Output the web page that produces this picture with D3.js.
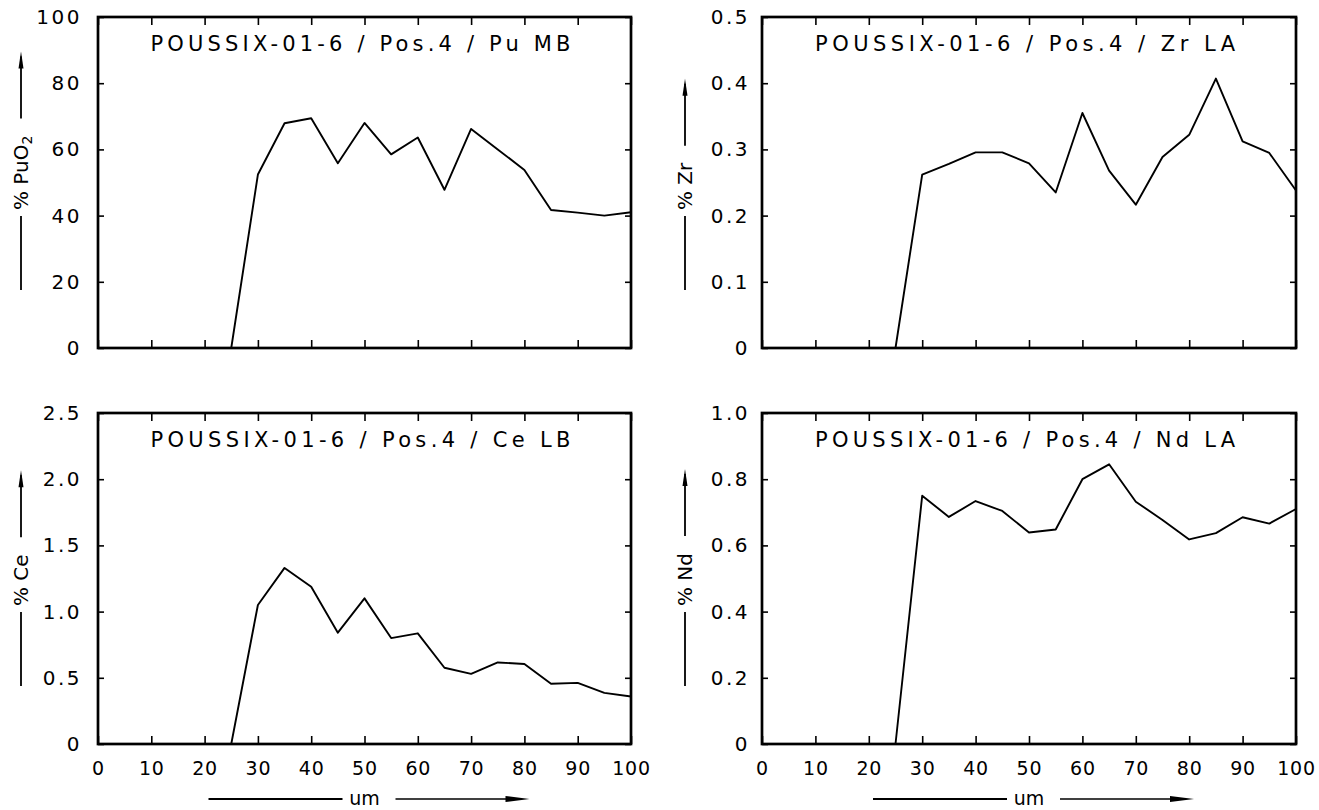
<!DOCTYPE html>
<html>
<head>
<meta charset="utf-8">
<script src="https://cdn.jsdelivr.net/npm/d3@7"></script>
<style>
    body { margin: 0; background: #fff; }
    text { font-family: "DejaVu Sans", sans-serif; fill: #000; }
</style>
</head>
<body>
<div id="canvas"></div>
<script>
// distance along the sample, um
const positions = [0, 5, 10, 15, 20, 25, 30, 35, 40, 45, 50, 55, 60, 65, 70, 75, 80, 85, 90, 95, 100];

const puValues = [0, 0, 0, 0, 0, 0, 52.4, 67.9, 69.4, 55.8, 68, 58.5, 63.6, 47.8, 66.2, 60, 53.8, 41.7, 40.9, 40, 41];
const zrValues = [0, 0, 0, 0, 0, 0, 0.262, 0.278, 0.2955, 0.2955, 0.279, 0.235, 0.355, 0.268, 0.2165, 0.2885, 0.322, 0.407, 0.312, 0.2946, 0.238];
const ceValues = [0, 0, 0, 0, 0, 0, 1.05, 1.33, 1.187, 0.841, 1.1, 0.8, 0.836, 0.576, 0.53, 0.616, 0.604, 0.455, 0.462, 0.386, 0.359];
const ndValues = [0, 0, 0, 0, 0, 0, 0.75, 0.686, 0.734, 0.704, 0.639, 0.648, 0.8, 0.845, 0.732, 0.677, 0.618, 0.637, 0.685, 0.666, 0.71];

const xTicks = [0, 10, 20, 30, 40, 50, 60, 70, 80, 90, 100];
const puTicks = [0, 20, 40, 60, 80, 100];
const zrTicks = [0, 0.1, 0.2, 0.3, 0.4, 0.5];
const ceTicks = [0, 0.5, 1.0, 1.5, 2.0, 2.5];
const ndTicks = [0, 0.2, 0.4, 0.6, 0.8, 1.0];

const titles = [
    "POUSSIX-01-6 / Pos.4 / Pu MB",
    "POUSSIX-01-6 / Pos.4 / Zr LA",
    "POUSSIX-01-6 / Pos.4 / Ce LB",
    "POUSSIX-01-6 / Pos.4 / Nd LA"
];
const yNames = ["PuO", "Zr", "Ce", "Nd"];
const xName = "um";

const oneDecimal = d => d == 0 ? "0" : d3.format(".1f")(d);

const panels = [
    { values: puValues, ticks: puTicks, fmt: d => d.toString(), title: titles[0], name: yNames[0], sub: "2", col: 0, row: 0 },
    { values: zrValues, ticks: zrTicks, fmt: oneDecimal, title: titles[1], name: yNames[1], col: 1, row: 0 },
    { values: ceValues, ticks: ceTicks, fmt: oneDecimal, title: titles[2], name: yNames[2], col: 0, row: 1 },
    { values: ndValues, ticks: ndTicks, fmt: oneDecimal, title: titles[3], name: yNames[3], col: 1, row: 1 }
];

const colLeft = [98, 762];
const colRight = [631, 1296];
const rowTop = [17, 413];
const plotHeight = 331;

const svg = d3.select('#canvas').append('svg')
    .attr('width', 1319)
    .attr('height', 810);

function drawPanel(p) {
    const x0 = colLeft[p.col], x1 = colRight[p.col];
    const y0 = rowTop[p.row], y1 = y0 + plotHeight;

    const x = d3.scaleLinear().domain([0, 100]).range([x0, x1]);
    const y = d3.scaleLinear().domain([0, p.ticks[p.ticks.length - 1]]).range([y1, y0]);

    const g = svg.append('g');

    // inward ticks on all four sides
    g.append('g').attr('class', 'yaxis').attr('transform', 'translate(' + x0 + ',0)')
        .call(d3.axisLeft(y).tickValues(p.ticks).tickSize(-6).tickPadding(p.col == 0 ? 16 : 12).tickFormat(p.fmt));
    g.append('g').attr('transform', 'translate(' + x1 + ',0)')
        .call(d3.axisRight(y).tickValues(p.ticks).tickSize(-6).tickFormat(''));
    g.append('g').attr('transform', 'translate(0,' + y0 + ')')
        .call(d3.axisTop(x).tickValues(xTicks).tickSize(-8).tickFormat(''));
    g.append('g').attr('class', 'xaxis').attr('transform', 'translate(0,' + y1 + ')')
        .call(d3.axisBottom(x).tickValues(xTicks).tickSize(-8).tickPadding(18)
            .tickFormat(p.row == 1 ? d => d : ''));

    g.selectAll('.domain').remove();
    g.selectAll('.tick line').attr('stroke', '#000').attr('stroke-width', 1.6);
    g.selectAll('.yaxis .tick text')
        .attr('font-family', '"DejaVu Sans", sans-serif')
        .attr('font-size', 20)
        .style('letter-spacing', '2.5px');
    g.selectAll('.xaxis .tick text')
        .attr('font-family', '"DejaVu Sans", sans-serif')
        .attr('font-size', 19)
        .style('letter-spacing', '0.8px');

    // frame
    g.append('rect')
        .attr('x', x0).attr('y', y0)
        .attr('width', x1 - x0).attr('height', y1 - y0)
        .attr('fill', 'none')
        .attr('stroke', '#000')
        .attr('stroke-width', 2.7);

    const line = d3.line()
        .x((d, i) => x(positions[i]))
        .y(d => y(d));

    g.append('path')
        .datum(p.values)
        .attr('d', line)
        .attr('fill', 'none')
        .attr('stroke', '#000')
        .attr('stroke-width', 1.9)
        .attr('stroke-linejoin', 'round');

    g.append('text')
        .attr('x', (x0 + x1) / 2 - 4)
        .attr('y', y0 + 27)
        .attr('dy', '0.35em')
        .attr('text-anchor', 'middle')
        .attr('font-size', 21)
        .attr('textLength', 420)
        .attr('lengthAdjust', 'spacing')
        .text(p.title);

    // y label: "% name" rotated, with a line below and an arrow above
    const lx = x0 - 77;
    const base = y0 + 193;
    const label = g.append('text')
        .attr('transform', 'translate(' + lx + ',' + base + ') rotate(-90)')
        .attr('dy', '0.35em')
        .attr('font-size', 20);
    label.append('tspan').text('% ' + p.name);
    if (p.sub) {
        label.append('tspan').attr('font-size', 14).attr('dy', '0.3em').text(p.sub);
    }
    const len = label.node().getComputedTextLength();

    g.append('line')
        .attr('x1', lx).attr('x2', lx)
        .attr('y1', base + 6).attr('y2', y0 + 273)
        .attr('stroke', '#000').attr('stroke-width', 1.8);
    const top = base - len - 17;
    g.append('line')
        .attr('x1', lx).attr('x2', lx)
        .attr('y1', top).attr('y2', top - 62)
        .attr('stroke', '#000').attr('stroke-width', 1.8);
    g.append('path')
        .attr('d', 'M ' + lx + ' ' + (top - 67) + ' L ' + (lx - 2.5) + ' ' + (top - 50) + ' L ' + (lx + 2.5) + ' ' + (top - 50) + ' Z')
        .attr('fill', '#000');

    // x label with arrow, only on the bottom row
    if (p.row == 1) {
        const cx = (x0 + x1) / 2;
        const ly = 799;
        g.append('text')
            .attr('x', cx).attr('y', ly)
            .attr('dy', '0.3em')
            .attr('text-anchor', 'middle')
            .attr('font-size', 19)
            .text(xName);
        g.append('line')
            .attr('x1', cx - 156).attr('x2', cx - 22)
            .attr('y1', ly).attr('y2', ly)
            .attr('stroke', '#000').attr('stroke-width', 1.8);
        g.append('line')
            .attr('x1', cx + 31).attr('x2', cx + 150)
            .attr('y1', ly).attr('y2', ly)
            .attr('stroke', '#000').attr('stroke-width', 1.5);
        g.append('path')
            .attr('d', 'M ' + (cx + 165) + ' ' + ly + ' L ' + (cx + 141) + ' ' + (ly - 3) + ' L ' + (cx + 141) + ' ' + (ly + 3) + ' Z')
            .attr('fill', '#000');
    }
}

panels.forEach(drawPanel);
</script>
</body>
</html>
